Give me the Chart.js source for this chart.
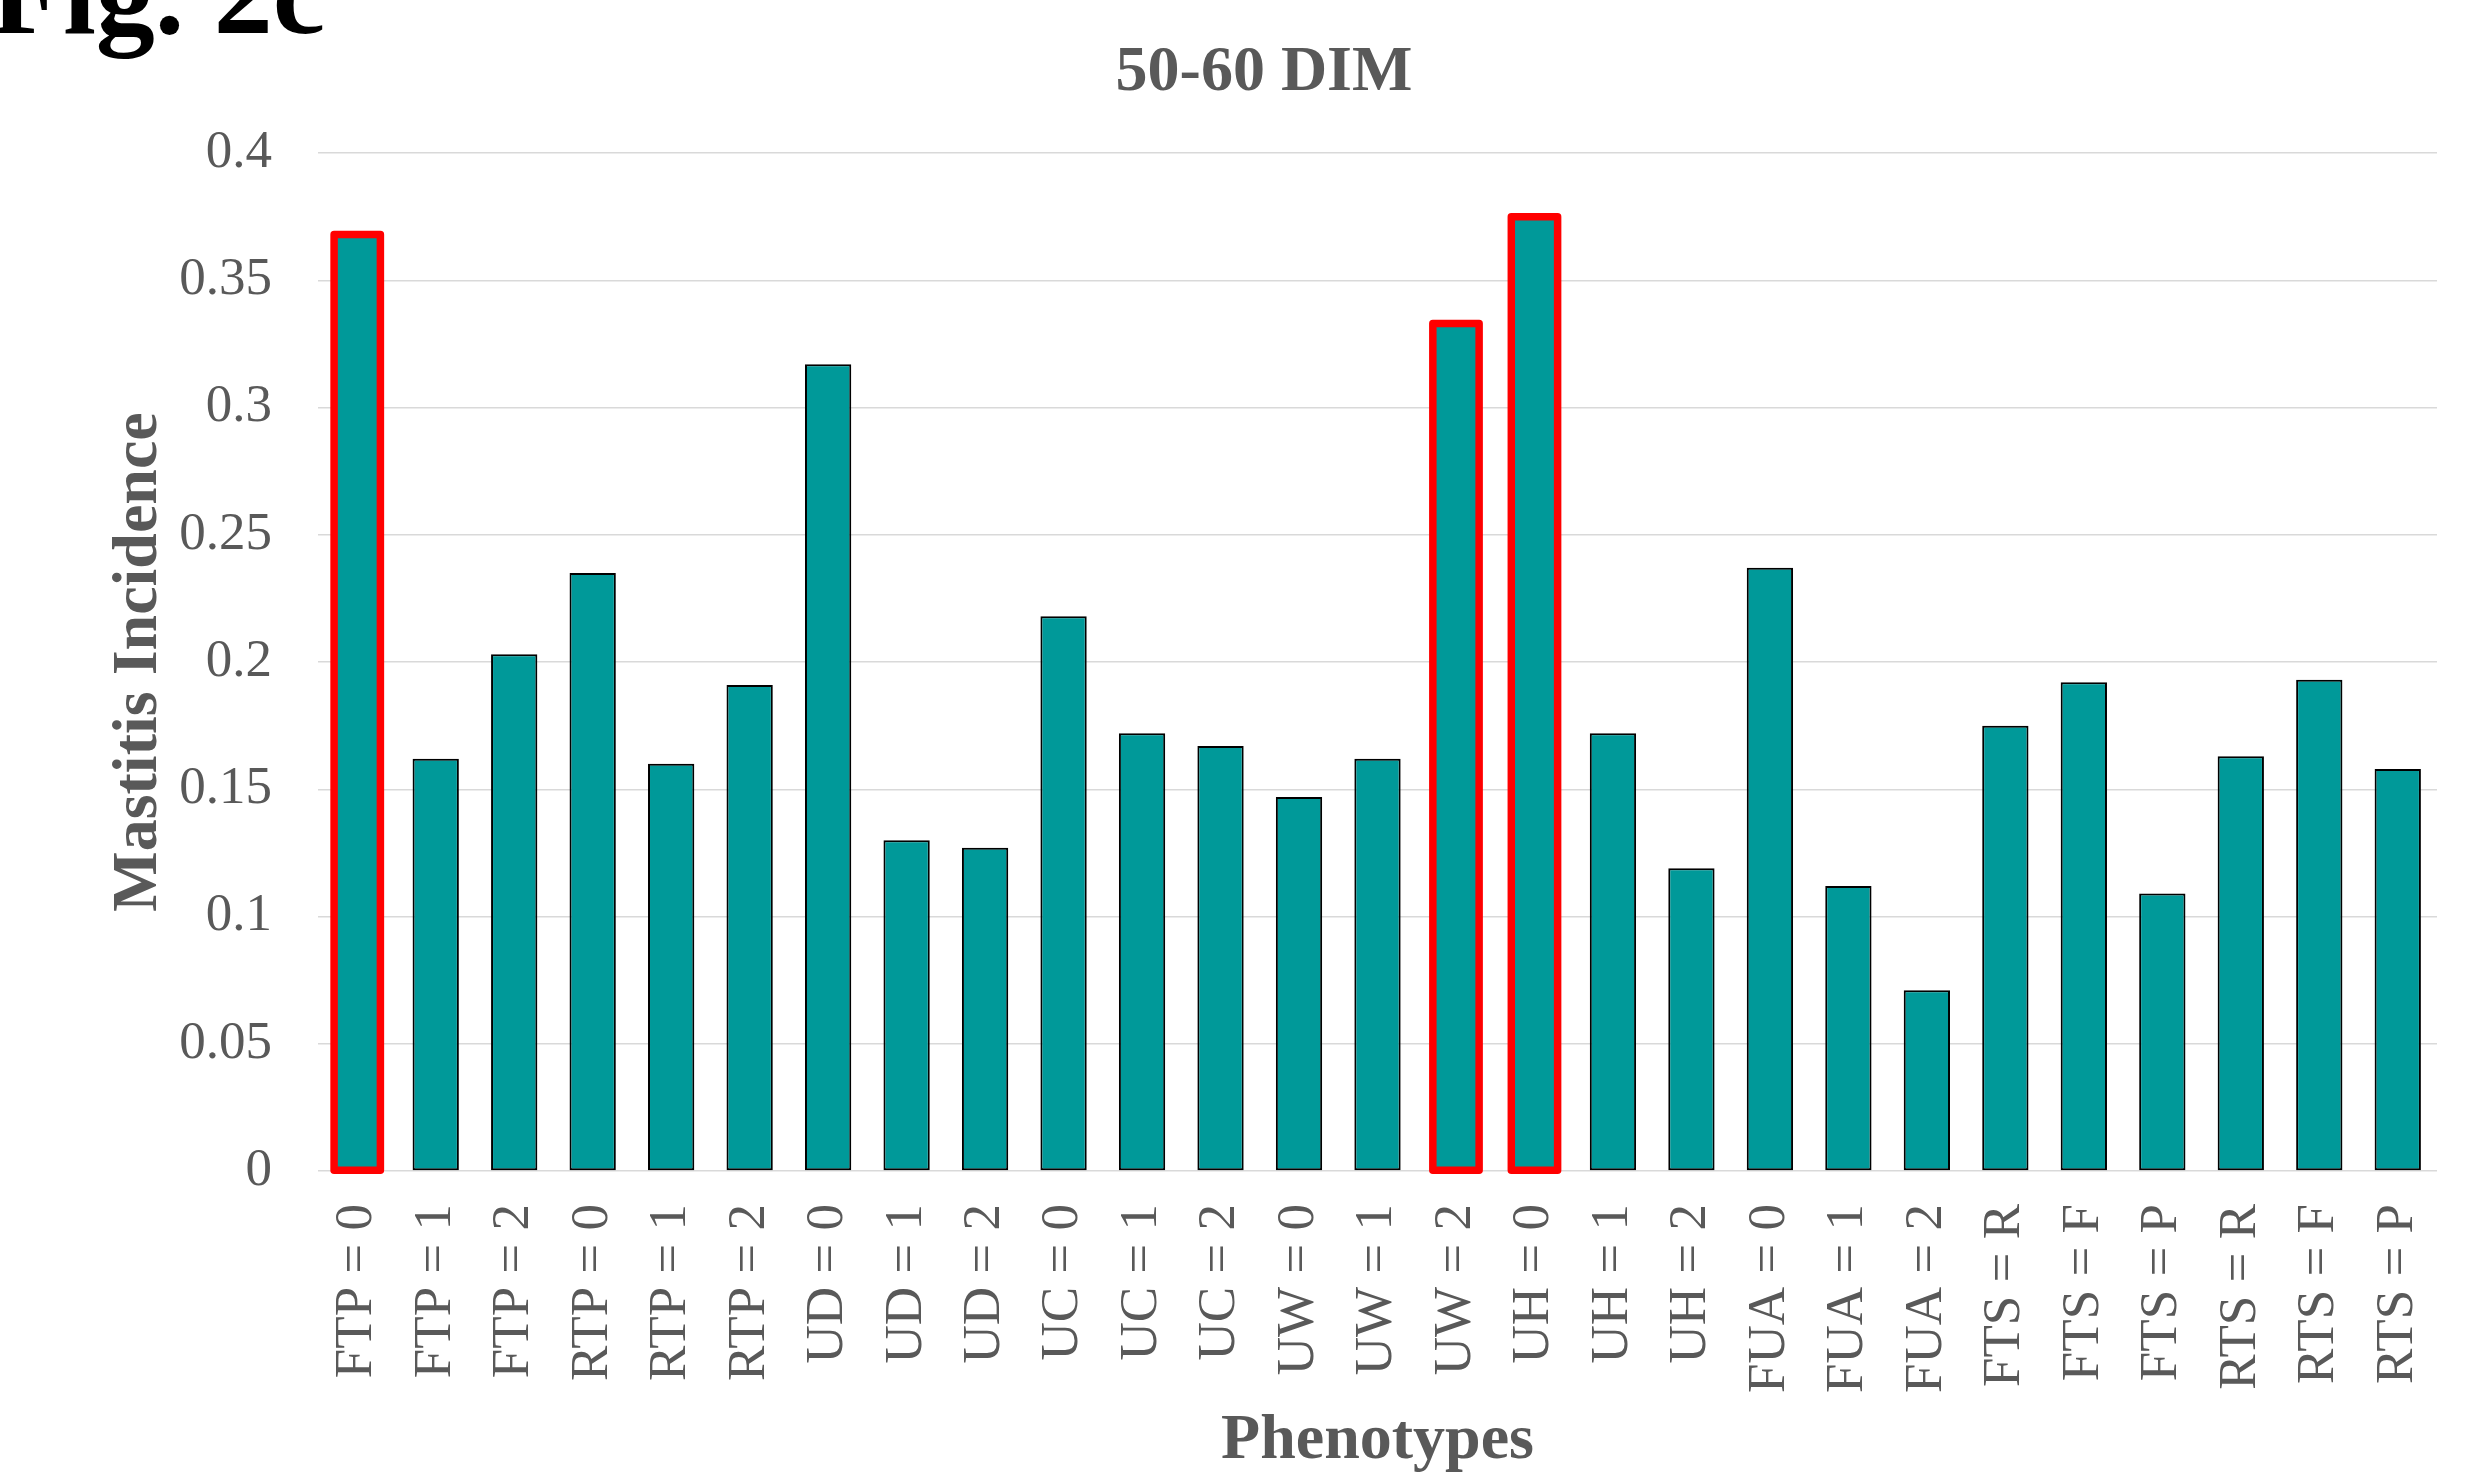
<!DOCTYPE html>
<html>
<head>
<meta charset="utf-8">
<script src="https://cdn.jsdelivr.net/npm/chart.js@4/dist/chart.umd.min.js"></script>
<style>
  html, body { margin: 0; padding: 0; background: #ffffff; }
  #wrap { position: relative; width: 2478px; height: 1474px; overflow: hidden; }
  #fig { position: absolute; left: -9px; top: -65.5px; font-family: "Liberation Serif", "Times New Roman", serif;
         font-weight: bold; font-size: 118px; line-height: 118px; color: #000; white-space: nowrap; }
  canvas { position: absolute; left: 0; top: 0; }
</style>
</head>
<body>
<div id="wrap">
  <canvas id="c" width="2478" height="1474"></canvas>
  <div id="fig">Fig. 2c</div>
</div>
<script>
const categories = [
  'FTP = 0', 'FTP = 1', 'FTP = 2', 'RTP = 0', 'RTP = 1', 'RTP = 2',
  'UD = 0', 'UD = 1', 'UD = 2', 'UC = 0', 'UC = 1', 'UC = 2',
  'UW = 0', 'UW = 1', 'UW = 2', 'UH = 0', 'UH = 1', 'UH = 2',
  'FUA = 0', 'FUA = 1', 'FUA = 2', 'FTS = R', 'FTS = F', 'FTS = P',
  'RTS = R', 'RTS = F', 'RTS = P'
];
const incidence = [
  0.368, 0.162, 0.203, 0.235, 0.160, 0.191,
  0.317, 0.130, 0.127, 0.218, 0.172, 0.167,
  0.147, 0.162, 0.333, 0.375, 0.172, 0.119,
  0.237, 0.112, 0.071, 0.175, 0.192, 0.109,
  0.163, 0.193, 0.158
];
const highlighted = ['FTP = 0', 'UW = 2', 'UH = 0'];
const yTicks = [0, 0.05, 0.1, 0.15, 0.2, 0.25, 0.3, 0.35, 0.4];
const chartTitle = '50-60 DIM';
const yTitle = 'Mastitis Incidence';
const xTitle = 'Phenotypes';

const FONT = '"Liberation Serif", "Times New Roman", serif';
const GRAY = '#595959';

const highlightPlugin = {
  id: 'highlightBars',
  afterDatasetsDraw(chart) {
    const meta = chart.getDatasetMeta(0);
    const ctx = chart.ctx;
    ctx.save();
    ctx.strokeStyle = '#ff0000';
    ctx.lineWidth = 7.5;
    ctx.lineJoin = 'round';
    highlighted.forEach(lbl => {
      const i = categories.indexOf(lbl);
      if (i < 0) return;
      const el = meta.data[i];
      const p = el.getProps(['x', 'y', 'base', 'width'], true);
      ctx.strokeRect(p.x - p.width / 2, p.y, p.width, p.base - p.y);
    });
    ctx.restore();
  }
};

new Chart(document.getElementById('c'), {
  type: 'bar',
  data: {
    labels: categories,
    datasets: [{
      data: incidence,
      backgroundColor: '#009999',
      borderColor: '#000000',
      borderWidth: 2,
      borderSkipped: false,
      categoryPercentage: 1.0,
      barPercentage: 0.59
    }]
  },
  options: {
    responsive: false,
    animation: false,
    devicePixelRatio: 1,
    layout: { padding: { left: 91, right: 41, top: 0, bottom: 0 } },
    plugins: {
      legend: { display: false },
      tooltip: { enabled: false },
      title: {
        display: true,
        text: chartTitle,
        color: GRAY,
        font: { family: FONT, size: 64, weight: 'bold', lineHeight: 1.2 },
        padding: { top: 34.6, bottom: 41.6 }
      }
    },
    scales: {
      x: {
        grid: { display: false, drawTicks: false },
        border: { display: false },
        ticks: {
          color: GRAY,
          font: { family: FONT, size: 53 },
          minRotation: 90,
          maxRotation: 90,
          autoSkip: false,
          padding: 33
        },
        title: {
          display: true,
          text: xTitle,
          color: GRAY,
          font: { family: FONT, size: 64, weight: 'bold', lineHeight: 1 },
          padding: { top: 0, bottom: 1 }
        },
        afterFit(scale) {
          scale.height = 303;
          scale.paddingLeft = 0;
          scale.paddingRight = 0;
        }
      },
      y: {
        min: 0,
        max: 0.4,
        grid: { color: '#d9d9d9', lineWidth: 1.5, drawTicks: false },
        border: { display: false },
        afterBuildTicks(scale) { scale.ticks = yTicks.map(v => ({ value: v })); },
        ticks: {
          color: GRAY,
          font: { family: FONT, size: 53 },
          padding: 46,
          callback: v => String(Number(v.toFixed(2)))
        },
        title: {
          display: true,
          text: yTitle,
          color: GRAY,
          font: { family: FONT, size: 64, weight: 'bold', lineHeight: 1.2 },
          padding: { top: 9.6, bottom: 0 }
        },
        afterFit(scale) { scale.width = 227; }
      }
    }
  },
  plugins: [highlightPlugin]
});
</script>
</body>
</html>
